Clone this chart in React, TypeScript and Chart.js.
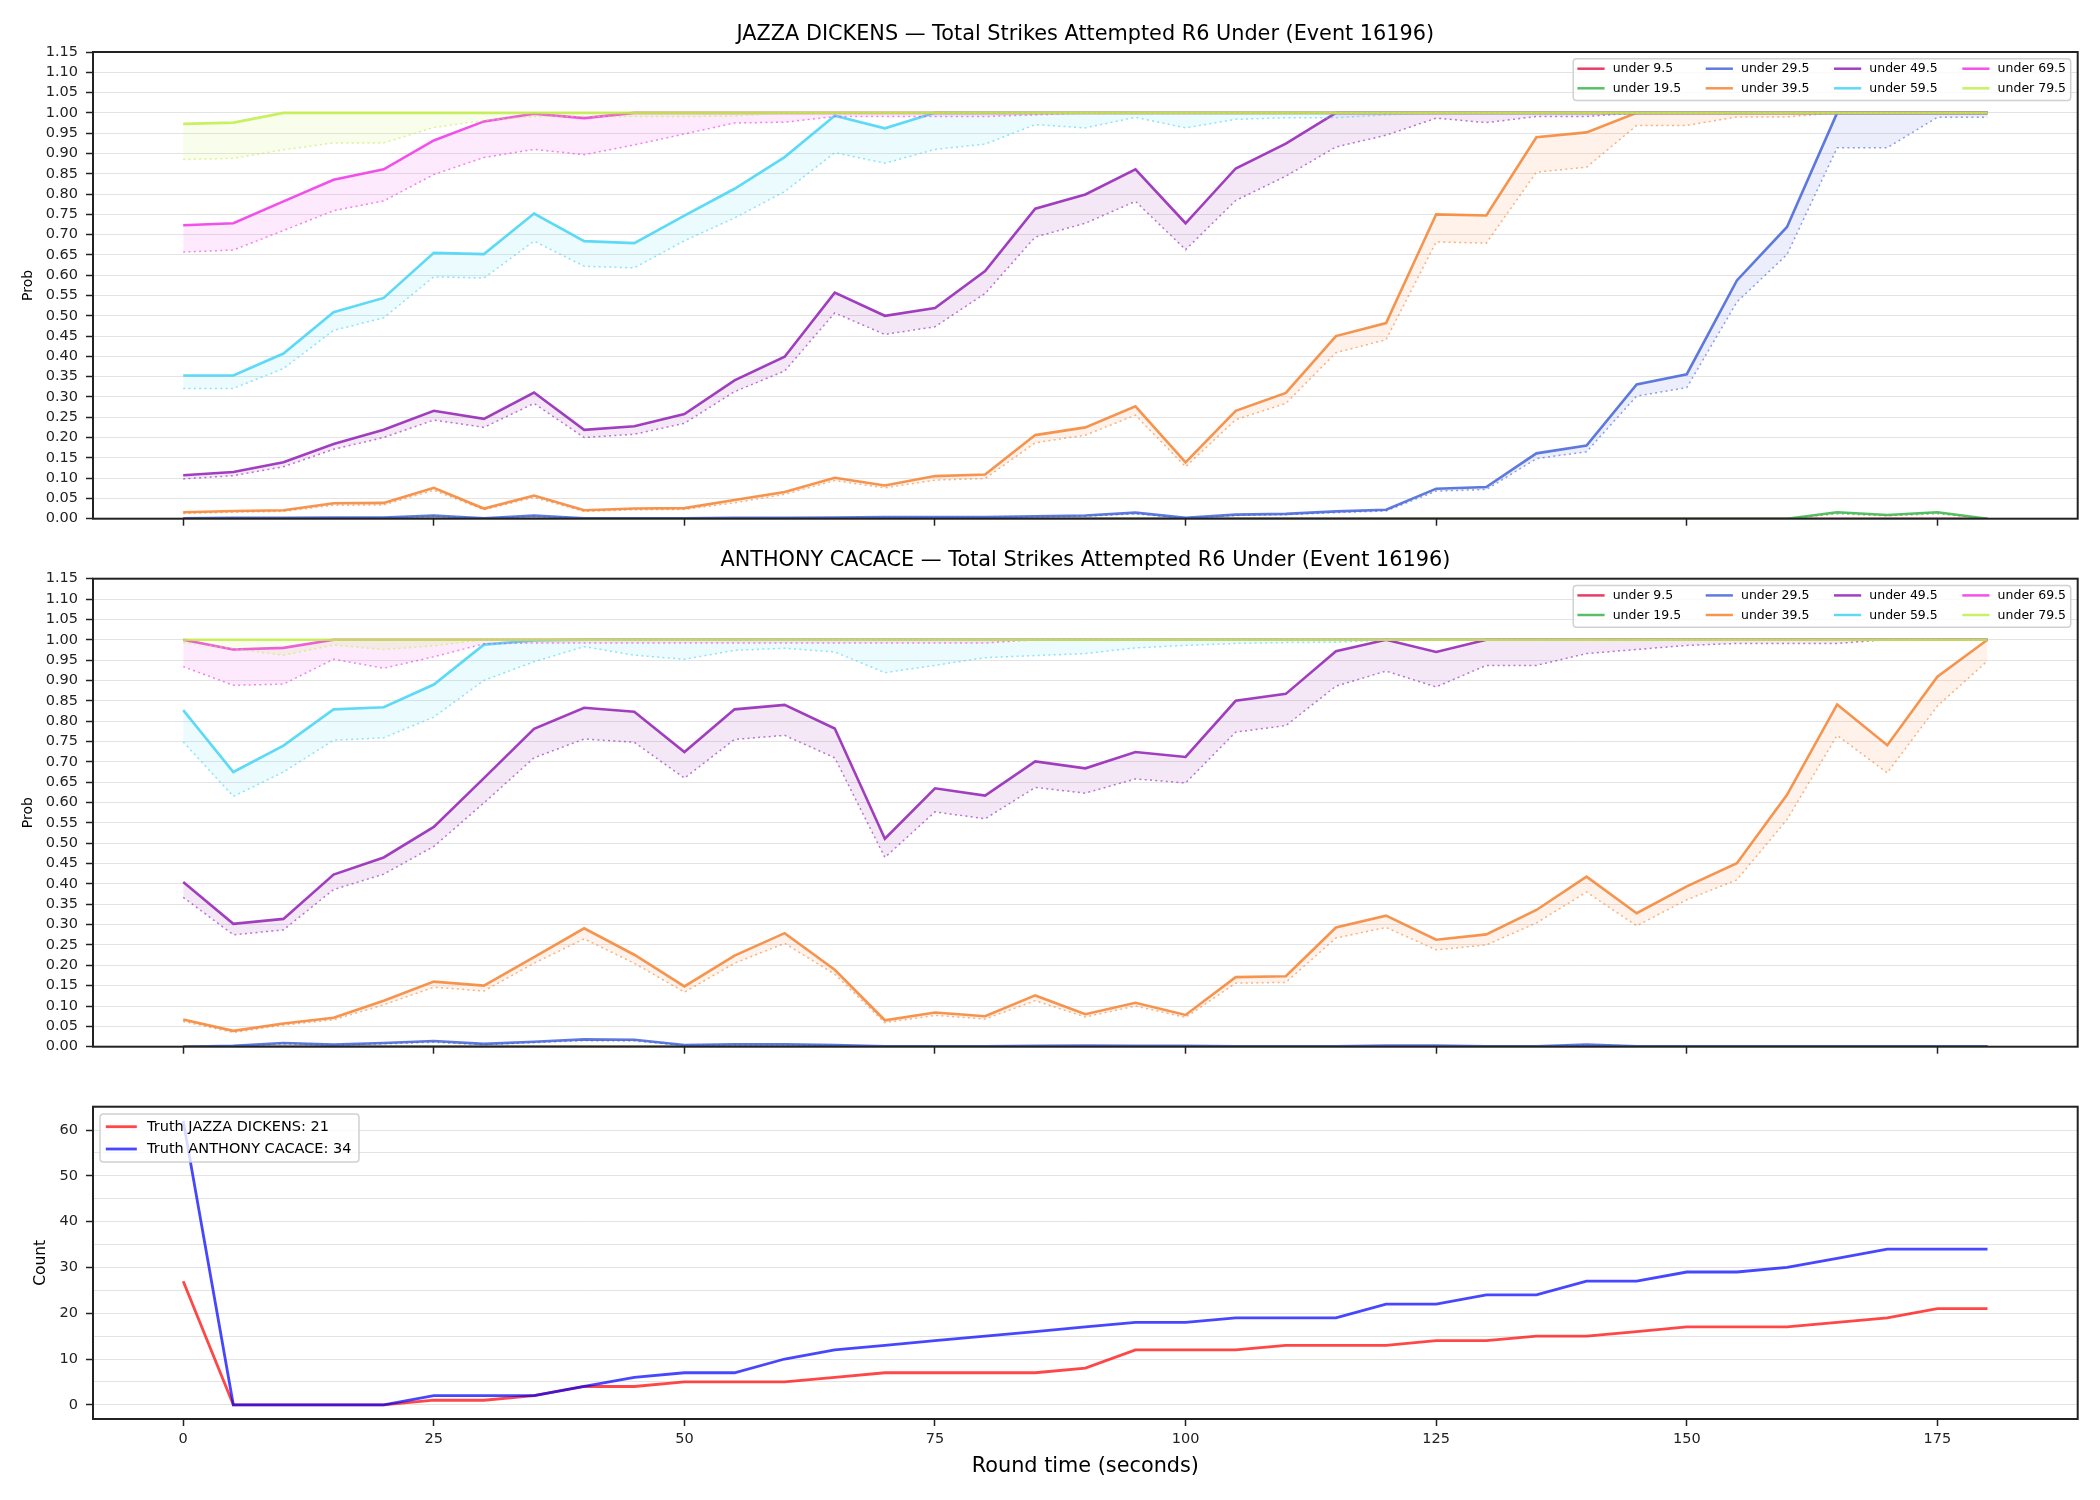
import React, { useEffect, useRef } from 'react';
import { Chart, registerables } from 'chart.js';

Chart.register(...registerables);
Chart.defaults.font.family = "'DejaVu Sans', sans-serif";
Chart.defaults.color = '#222';

// ---------------- data ----------------
const ROUND_TIME = [0, 5, 10, 15, 20, 25, 30, 35, 40, 45, 50, 55, 60, 65, 70, 75, 80, 85, 90, 95, 100, 105, 110, 115, 120, 125, 130, 135, 140, 145, 150, 155, 160, 165, 170, 175, 180];
const THRESHOLDS = ['under 9.5', 'under 19.5', 'under 29.5', 'under 39.5', 'under 49.5', 'under 59.5', 'under 69.5', 'under 79.5'];
const COLORS = ['#e6194B', '#3cb44b', '#4363d8', '#f58231', '#911eb4', '#42d4f4', '#f032e6', '#bfef45'];
const PROB_TICKS = [0, 0.05, 0.1, 0.15, 0.2, 0.25, 0.3, 0.35, 0.4, 0.45, 0.5, 0.55, 0.6, 0.65, 0.7, 0.75, 0.8, 0.85, 0.9, 0.95, 1.0, 1.05, 1.1, 1.15];
const TIME_TICKS = [0, 25, 50, 75, 100, 125, 150, 175];
const COUNT_TICKS = [0, 5, 10, 15, 20, 25, 30, 35, 40, 45, 50, 55, 60, 65];

// JAZZA DICKENS
const JD_U9_5 = [0,0,0,0,0,0,0,0,0,0,0,0,0,0,0,0,0,0,0,0,0,0,0,0,0,0,0,0,0,0,0,0,0,0,0,0,0];
const JD_U9_5_DOT = [0,0,0,0,0,0,0,0,0,0,0,0,0,0,0,0,0,0,0,0,0,0,0,0,0,0,0,0,0,0,0,0,0,0,0,0,0];
const JD_U19_5 = [0,0,0,0,0,0,0,0,0,0,0,0,0,0,0,0,0,0,0,0,0,0,0,0,0,0,0,0,0,0,0,0,0,0.016,0.009,0.016,0];
const JD_U19_5_DOT = [0,0,0,0,0,0,0,0,0,0,0,0,0,0,0,0,0,0,0,0,0,0,0,0,0,0,0,0,0,0,0,0,0,0.012,0.007,0.012,0];
const JD_U29_5 = [0.001,0.002,0.002,0.003,0.003,0.008,0.001,0.008,0.001,0.001,0.001,0.002,0.002,0.003,0.004,0.004,0.004,0.006,0.008,0.015,0.002,0.01,0.012,0.018,0.022,0.074,0.078,0.161,0.18,0.331,0.356,0.587,0.719,1,1,1,1];
const JD_U29_5_DOT = [0.001,0.001,0.002,0.002,0.002,0.006,0.001,0.006,0.001,0.001,0.001,0.001,0.002,0.002,0.003,0.003,0.003,0.005,0.006,0.012,0.001,0.008,0.01,0.015,0.019,0.068,0.072,0.148,0.165,0.302,0.323,0.534,0.651,0.914,0.914,0.989,0.989];
const JD_U39_5 = [0.016,0.019,0.021,0.038,0.039,0.076,0.025,0.057,0.021,0.025,0.026,0.046,0.066,0.101,0.082,0.105,0.109,0.206,0.225,0.277,0.139,0.266,0.31,0.45,0.482,0.75,0.747,0.94,0.952,1,1,1,1,1,1,1,1];
const JD_U39_5_DOT = [0.013,0.016,0.018,0.033,0.034,0.07,0.022,0.052,0.018,0.022,0.023,0.039,0.06,0.094,0.076,0.095,0.099,0.187,0.206,0.255,0.128,0.244,0.284,0.409,0.441,0.682,0.679,0.854,0.866,0.969,0.969,0.99,0.99,1,1,1,1];
const JD_U49_5 = [0.107,0.115,0.139,0.184,0.219,0.266,0.246,0.311,0.219,0.228,0.258,0.341,0.399,0.557,0.5,0.519,0.61,0.764,0.799,0.861,0.728,0.863,0.924,1,1,1,1,1,1,1,1,1,1,1,1,1,1];
const JD_U49_5_DOT = [0.098,0.106,0.128,0.171,0.2,0.243,0.225,0.284,0.2,0.208,0.235,0.313,0.364,0.507,0.454,0.473,0.555,0.694,0.728,0.782,0.663,0.784,0.844,0.916,0.945,0.987,0.976,0.991,0.991,1,1,1,1,1,1,1,1];
const JD_U59_5 = [0.353,0.353,0.407,0.509,0.544,0.655,0.652,0.752,0.684,0.679,0.747,0.813,0.891,0.993,0.962,1,1,1,1,1,1,1,1,1,1,1,1,1,1,1,1,1,1,1,1,1,1];
const JD_U59_5_DOT = [0.321,0.321,0.37,0.464,0.495,0.596,0.593,0.684,0.622,0.618,0.685,0.741,0.806,0.902,0.876,0.91,0.923,0.971,0.963,0.989,0.963,0.984,0.988,0.988,0.995,1,1,1,1,1,1,1,1,1,1,1,1];
const JD_U69_5 = [0.723,0.728,0.782,0.835,0.861,0.932,0.979,0.998,0.987,1,1,1,1,1,1,1,1,1,1,1,1,1,1,1,1,1,1,1,1,1,1,1,1,1,1,1,1];
const JD_U69_5_DOT = [0.657,0.662,0.71,0.759,0.783,0.848,0.89,0.91,0.897,0.921,0.948,0.975,0.977,0.991,0.991,0.991,0.991,0.995,1,1,1,1,1,1,1,1,1,1,1,1,1,1,1,1,1,1,1];
const JD_U79_5 = [0.973,0.976,1,1,1,1,1,1,1,1,1,1,1,1,1,1,1,1,1,1,1,1,1,1,1,1,1,1,1,1,1,1,1,1,1,1,1];
const JD_U79_5_DOT = [0.885,0.888,0.909,0.926,0.926,0.964,0.981,0.991,0.991,0.991,0.991,0.992,1,1,1,1,1,1,1,1,1,1,1,1,1,1,1,1,1,1,1,1,1,1,1,1,1];

// ANTHONY CACACE
const AC_U9_5 = [0,0,0,0,0,0,0,0,0,0,0,0,0,0,0,0,0,0,0,0,0,0,0,0,0,0,0,0,0,0,0,0,0,0,0,0,0];
const AC_U9_5_DOT = [0,0,0,0,0,0,0,0,0,0,0,0,0,0,0,0,0,0,0,0,0,0,0,0,0,0,0,0,0,0,0,0,0,0,0,0,0];
const AC_U19_5 = [0,0,0,0,0,0,0,0,0,0,0,0,0,0,0,0,0,0,0,0,0,0,0,0,0,0,0,0,0,0,0,0,0,0,0,0,0];
const AC_U19_5_DOT = [0,0,0,0,0,0,0,0,0,0,0,0,0,0,0,0,0,0,0,0,0,0,0,0,0,0,0,0,0,0,0,0,0,0,0,0,0];
const AC_U29_5 = [0,0.002,0.009,0.005,0.009,0.014,0.007,0.012,0.018,0.017,0.004,0.006,0.006,0.004,0.001,0.001,0.001,0.002,0.003,0.002,0.002,0.001,0.001,0.001,0.003,0.003,0.001,0.001,0.005,0.001,0.001,0.001,0.001,0.001,0.001,0.001,0.001];
const AC_U29_5_DOT = [0,0.001,0.007,0.004,0.007,0.011,0.005,0.01,0.015,0.014,0.003,0.005,0.005,0.003,0.001,0.001,0.001,0.001,0.002,0.001,0.001,0.001,0.001,0.001,0.002,0.002,0.001,0.001,0.004,0.001,0.001,0.001,0.001,0.001,0.001,0.001,0.001];
const AC_U39_5 = [0.067,0.039,0.057,0.071,0.113,0.16,0.15,0.22,0.291,0.226,0.148,0.224,0.279,0.189,0.065,0.084,0.075,0.126,0.08,0.108,0.078,0.171,0.173,0.293,0.322,0.263,0.276,0.336,0.418,0.328,0.394,0.451,0.619,0.841,0.741,0.909,1];
const AC_U39_5_DOT = [0.062,0.035,0.053,0.066,0.103,0.146,0.137,0.205,0.265,0.205,0.134,0.205,0.254,0.178,0.059,0.077,0.068,0.113,0.073,0.1,0.072,0.156,0.158,0.267,0.293,0.238,0.25,0.304,0.38,0.297,0.361,0.41,0.558,0.765,0.673,0.837,0.948];
const AC_U49_5 = [0.405,0.302,0.314,0.423,0.465,0.54,0.66,0.781,0.833,0.823,0.724,0.829,0.84,0.782,0.511,0.635,0.617,0.701,0.684,0.724,0.712,0.85,0.867,0.972,1,0.97,1,1,1,1,1,1,1,1,1,1,1];
const AC_U49_5_DOT = [0.367,0.275,0.287,0.386,0.424,0.492,0.599,0.71,0.756,0.748,0.66,0.755,0.765,0.71,0.465,0.577,0.56,0.637,0.623,0.658,0.648,0.773,0.789,0.886,0.923,0.884,0.937,0.937,0.966,0.976,0.986,0.991,0.991,0.991,1,1,1];
const AC_U59_5 = [0.827,0.675,0.74,0.829,0.834,0.89,0.988,0.998,1,1,1,1,1,1,1,1,1,1,1,1,1,1,1,1,1,1,1,1,1,1,1,1,1,1,1,1,1];
const AC_U59_5_DOT = [0.749,0.615,0.675,0.753,0.759,0.81,0.9,0.946,0.983,0.962,0.952,0.974,0.979,0.97,0.919,0.937,0.956,0.961,0.966,0.98,0.986,0.991,0.993,0.994,0.999,1,1,1,1,1,1,1,1,1,1,1,1];
const AC_U69_5 = [1,0.976,0.98,1,1,1,1,1,1,1,1,1,1,1,1,1,1,1,1,1,1,1,1,1,1,1,1,1,1,1,1,1,1,1,1,1,1];
const AC_U69_5_DOT = [0.934,0.888,0.891,0.952,0.93,0.958,0.99,0.992,0.992,0.992,0.992,0.992,0.992,0.992,0.992,0.992,0.992,1,1,1,1,1,1,1,1,1,1,1,1,1,1,1,1,1,1,1,1];
const AC_U79_5 = [1,1,1,1,1,1,1,1,1,1,1,1,1,1,1,1,1,1,1,1,1,1,1,1,1,1,1,1,1,1,1,1,1,1,1,1,1];
const AC_U79_5_DOT = [0.993,0.978,0.962,0.987,0.976,0.985,1,1,1,1,1,1,1,1,1,1,1,1,1,1,1,1,1,1,1,1,1,1,1,1,1,1,1,1,1,1,1];

// Truth counts
const TRUTH_JAZZA = [27,0,0,0,0,1,1,2,4,4,5,5,5,6,7,7,7,7,8,12,12,12,13,13,13,14,14,15,15,16,17,17,17,18,19,21,21];
const TRUTH_ANTHONY = [62,0,0,0,0,2,2,2,4,6,7,7,10,12,13,14,15,16,17,18,18,19,19,19,22,22,24,24,27,27,29,29,30,32,34,34,34];

const JD_SOLID = [JD_U9_5, JD_U19_5, JD_U29_5, JD_U39_5, JD_U49_5, JD_U59_5, JD_U69_5, JD_U79_5];
const JD_DOTTED = [JD_U9_5_DOT, JD_U19_5_DOT, JD_U29_5_DOT, JD_U39_5_DOT, JD_U49_5_DOT, JD_U59_5_DOT, JD_U69_5_DOT, JD_U79_5_DOT];
const AC_SOLID = [AC_U9_5, AC_U19_5, AC_U29_5, AC_U39_5, AC_U49_5, AC_U59_5, AC_U69_5, AC_U79_5];
const AC_DOTTED = [AC_U9_5_DOT, AC_U19_5_DOT, AC_U29_5_DOT, AC_U39_5_DOT, AC_U49_5_DOT, AC_U59_5_DOT, AC_U69_5_DOT, AC_U79_5_DOT];

// ---------------- helpers ----------------
function rgba(hex: string, a: number) {
  const h = hex.replace('#', '');
  const r = parseInt(h.slice(0, 2), 16);
  const g = parseInt(h.slice(2, 4), 16);
  const b = parseInt(h.slice(4, 6), 16);
  return `rgba(${r},${g},${b},${a})`;
}

const FONT = "'DejaVu Sans', sans-serif";
const GRID = 'rgba(0,0,0,0.11)';
const DARK = '#222';

function pts(values: number[]) {
  return ROUND_TIME.map((t, k) => ({ x: t, y: values[k] }));
}

type LegendSpec = {
  items: { label: string; color: string }[];
  corner: 'right' | 'left';
  offX: number; offY: number; boxW: number; boxH: number;
  colStep: number; rows: number; rowY0: number; rowStep: number;
  handleX: number; handleLen: number; textX: number; fontSize: number; handleW: number;
};

function makeDecor(title: string | null, legend: LegendSpec) {
  return {
    id: 'decor',
    afterDraw(chart: any) {
      const { ctx, chartArea: a } = chart;
      ctx.save();
      ctx.strokeStyle = DARK;
      ctx.lineWidth = 2;
      ctx.strokeRect(a.left, a.top, a.right - a.left, a.bottom - a.top);
      if (title) {
        ctx.fillStyle = '#000';
        ctx.font = `20.8px ${FONT}`;
        ctx.textAlign = 'center';
        ctx.textBaseline = 'alphabetic';
        ctx.fillText(title, (a.left + a.right) / 2, a.top - 12.5);
      }
      // legend
      const L = legend;
      const bx = L.corner === 'right' ? a.right - L.offX - L.boxW : a.left + L.offX;
      const by = a.top + L.offY;
      ctx.beginPath();
      const r = 3.5;
      ctx.moveTo(bx + r, by);
      ctx.lineTo(bx + L.boxW - r, by);
      ctx.quadraticCurveTo(bx + L.boxW, by, bx + L.boxW, by + r);
      ctx.lineTo(bx + L.boxW, by + L.boxH - r);
      ctx.quadraticCurveTo(bx + L.boxW, by + L.boxH, bx + L.boxW - r, by + L.boxH);
      ctx.lineTo(bx + r, by + L.boxH);
      ctx.quadraticCurveTo(bx, by + L.boxH, bx, by + L.boxH - r);
      ctx.lineTo(bx, by + r);
      ctx.quadraticCurveTo(bx, by, bx + r, by);
      ctx.closePath();
      ctx.fillStyle = 'rgba(255,255,255,0.8)';
      ctx.fill();
      ctx.strokeStyle = 'rgba(204,204,204,0.9)';
      ctx.lineWidth = 1.5;
      ctx.stroke();
      ctx.font = `${L.fontSize}px ${FONT}`;
      ctx.textAlign = 'left';
      ctx.textBaseline = 'middle';
      L.items.forEach((it, k) => {
        const col = Math.floor(k / L.rows);
        const row = k % L.rows;
        const y = by + L.rowY0 + row * L.rowStep;
        const hx = bx + L.handleX + col * L.colStep;
        ctx.strokeStyle = it.color;
        ctx.lineWidth = L.handleW;
        ctx.beginPath();
        ctx.moveTo(hx, y);
        ctx.lineTo(hx + L.handleLen, y);
        ctx.stroke();
        ctx.fillStyle = '#000';
        ctx.fillText(it.label, bx + L.textX + col * L.colStep, y + 0.5);
      });
      ctx.restore();
    },
  };
}

function probConfig(title: string, solid: number[][], dotted: number[][], padTop: number, padBottom: number) {
  const datasets: any[] = [];
  solid.forEach((s, i) => {
    const c = COLORS[i];
    datasets.push({
      label: THRESHOLDS[i],
      data: pts(s),
      borderColor: rgba(c, 0.85),
      backgroundColor: rgba(c, 0.1),
      borderWidth: 2.6,
      pointRadius: 0,
      tension: 0,
      fill: '+1',
      order: 100 - 2 * i,
    });
    datasets.push({
      label: THRESHOLDS[i] + ' (dotted)',
      data: pts(dotted[i]),
      borderColor: rgba(c, 0.6),
      borderWidth: 1.5,
      borderDash: [2, 3.3],
      pointRadius: 0,
      tension: 0,
      fill: false,
      order: 99 - 2 * i,
    });
  });
  const legend: LegendSpec = {
    items: THRESHOLDS.map((t, i) => ({ label: t, color: rgba(COLORS[i], 0.85) })),
    corner: 'right', offX: 7, offY: 6.8, boxW: 497.5, boxH: 41.7,
    colStep: 128.3, rows: 2, rowY0: 9.9, rowStep: 19.6,
    handleX: 4.2, handleLen: 27.2, textX: 39.5, fontSize: 12.5, handleW: 2.5,
  };
  return {
    type: 'line',
    data: { datasets },
    plugins: [makeDecor(title, legend)],
    options: {
      responsive: false,
      animation: false,
      events: [],
      layout: { padding: { left: 0, right: 22.3, top: padTop, bottom: padBottom } },
      plugins: { legend: { display: false }, tooltip: { enabled: false }, title: { display: false }, filler: { propagate: false } },
      scales: {
        x: {
          type: 'linear', min: -9, max: 189,
          afterBuildTicks: (s: any) => { s.ticks = TIME_TICKS.map((v) => ({ value: v })); },
          afterFit: (s: any) => { s.height = 10; },
          ticks: { display: false },
          grid: { drawOnChartArea: false, drawTicks: true, tickLength: 7, tickColor: DARK, tickWidth: 1.5 },
          border: { display: false },
        },
        y: {
          type: 'linear', min: 0, max: 1.15,
          afterBuildTicks: (s: any) => { s.ticks = PROB_TICKS.map((v) => ({ value: v })); },
          afterFit: (s: any) => { s.width = 93; },
          ticks: { autoSkip: false, padding: 8, color: DARK, font: { size: 14.5 }, callback: (v: any) => Number(v).toFixed(2) },
          grid: { color: GRID, lineWidth: 1, drawTicks: true, tickLength: 7, tickColor: DARK, tickWidth: 1.5 },
          border: { display: false },
          title: { display: true, text: 'Prob', color: '#000', font: { size: 14 }, padding: { top: 19.6, bottom: 0 } },
        },
      },
    },
  };
}

function countConfig() {
  const datasets: any[] = [
    { label: 'Truth JAZZA DICKENS: 21', data: pts(TRUTH_JAZZA), borderColor: 'rgba(255,0,0,0.72)', borderWidth: 2.8, pointRadius: 0, tension: 0, fill: false, order: 2 },
    { label: 'Truth ANTHONY CACACE: 34', data: pts(TRUTH_ANTHONY), borderColor: 'rgba(0,0,255,0.72)', borderWidth: 2.8, pointRadius: 0, tension: 0, fill: false, order: 1 },
  ];
  const legend: LegendSpec = {
    items: [
      { label: 'Truth JAZZA DICKENS: 21', color: 'rgba(255,0,0,0.72)' },
      { label: 'Truth ANTHONY CACACE: 34', color: 'rgba(0,0,255,0.72)' },
    ],
    corner: 'left', offX: 7, offY: 7.3, boxW: 259, boxH: 48,
    colStep: 0, rows: 2, rowY0: 12.7, rowStep: 22.3,
    handleX: 5.8, handleLen: 31, textX: 47, fontSize: 14.5, handleW: 2.8,
  };
  return {
    type: 'line',
    data: { datasets },
    plugins: [makeDecor(null, legend)],
    options: {
      responsive: false,
      animation: false,
      events: [],
      layout: { padding: { left: 0, right: 22.3, top: 26.7, bottom: 0 } },
      plugins: { legend: { display: false }, tooltip: { enabled: false }, title: { display: false } },
      scales: {
        x: {
          type: 'linear', min: -9, max: 189,
          afterBuildTicks: (s: any) => { s.ticks = TIME_TICKS.map((v) => ({ value: v })); },
          afterFit: (s: any) => { s.height = 81; },
          ticks: { display: true, autoSkip: false, maxRotation: 0, padding: 5, color: DARK, font: { size: 14.5 }, callback: (v: any) => String(v) },
          grid: { drawOnChartArea: false, drawTicks: true, tickLength: 7, tickColor: DARK, tickWidth: 1.5 },
          border: { display: false },
          title: { display: true, text: 'Round time (seconds)', color: '#000', font: { size: 20.8 }, padding: { top: 0, bottom: 21 } },
        },
        y: {
          type: 'linear', min: -3.1, max: 65.1,
          afterBuildTicks: (s: any) => { s.ticks = COUNT_TICKS.map((v) => ({ value: v })); },
          afterFit: (s: any) => { s.width = 93; },
          ticks: { autoSkip: false, padding: 8, color: DARK, font: { size: 14.5 }, callback: (v: any) => (Number(v) % 10 === 0 ? String(v) : '') },
          grid: {
            color: GRID, lineWidth: 1, drawTicks: true, tickLength: 7, tickWidth: 1.5,
            tickColor: (c: any) => (c.tick && c.tick.value % 10 === 0 ? DARK : 'rgba(0,0,0,0)'),
          },
          border: { display: false },
          title: { display: true, text: 'Count', color: '#000', font: { size: 15.5 }, padding: { top: 31.7, bottom: 0 } },
        },
      },
    },
  };
}

function ChartCanvas({ top, height, make }: { top: number; height: number; make: () => any }) {
  const ref = useRef<HTMLCanvasElement | null>(null);
  useEffect(() => {
    if (!ref.current) return;
    const chart = new Chart(ref.current, make());
    return () => chart.destroy();
  }, []);
  return (
    <canvas
      ref={ref}
      width={2100}
      height={height}
      style={{ position: 'absolute', left: 0, top, width: 2100, height }}
    />
  );
}

export default function App() {
  return (
    <div style={{ position: 'absolute', left: 0, top: 0, width: 2100, height: 1500, background: '#fff' }}>
      <ChartCanvas top={0} height={540} make={() => probConfig('JAZZA DICKENS — Total Strikes Attempted R6 Under (Event 16196)', JD_SOLID, JD_DOTTED, 52, 11.3)} />
      <ChartCanvas top={540} height={540} make={() => probConfig('ANTHONY CACACE — Total Strikes Attempted R6 Under (Event 16196)', AC_SOLID, AC_DOTTED, 38.7, 23.3)} />
      <ChartCanvas top={1080} height={420} make={countConfig} />
    </div>
  );
}
